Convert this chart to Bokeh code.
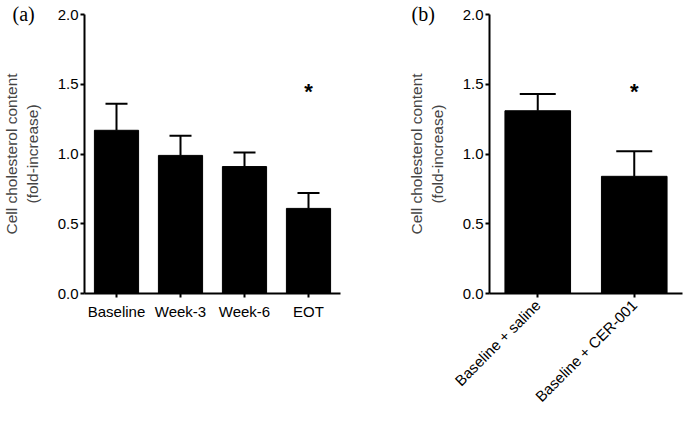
import math
from bokeh.plotting import figure
from bokeh.models import (ColumnDataSource, Whisker, TeeHead, Title, FactorRange,
                          CustomJSTickFormatter)
from bokeh.layouts import row
from bokeh.core.properties import value
from bokeh.embed import file_html
from bokeh.resources import INLINE

# ---- data ----
cats_a = ["Baseline", "Week-3", "Week-6", "EOT"]
vals_a = [1.17, 0.99, 0.91, 0.61]
err_a = [0.19, 0.14, 0.10, 0.11]

cats_b = ["Baseline + saline", "Baseline + CER-001"]
vals_b = [1.31, 0.84]
err_b = [0.12, 0.18]

star_a = ("EOT", 1.445)
star_b = ("Baseline + CER-001", 1.445)

y_ticks = [0.0, 0.5, 1.0, 1.5, 2.0]
ylab = "Cell cholesterol content\n(fold-increase)"
FONT = "Liberation Sans"
SERIF = "Liberation Serif"


def make_panel(cats, vals, errs, star, width, border_left, border_right, bar_w,
               cap, panel_label, label_off, rotate):
    src = ColumnDataSource(dict(x=cats, top=vals,
                                upper=[v + e for v, e in zip(vals, errs)]))
    p = figure(x_range=FactorRange(*cats, range_padding=0), y_range=(0, 2.0),
               width=width, height=413, output_backend="svg",
               toolbar_location=None, min_border_left=border_left,
               min_border_right=border_right, min_border_top=14,
               min_border_bottom=0)
    p.vbar(x="x", top="top", width=bar_w, source=src, fill_color="black",
           line_color="black")
    w = Whisker(base="x", upper="upper", lower="top", source=src,
                line_color="black", line_width=2,
                upper_head=TeeHead(size=cap, line_color="black", line_width=2),
                lower_head=None)
    p.add_layout(w)
    p.text(x=[star[0]], y=[star[1]], text=["*"], text_align="center",
           text_baseline="middle", text_font=value(FONT),
           text_font_style="bold", text_font_size="22px", text_color="black")

    p.outline_line_color = None
    p.grid.grid_line_color = None
    p.background_fill_color = None
    p.border_fill_color = None

    p.yaxis.ticker = y_ticks
    p.yaxis.formatter = CustomJSTickFormatter(code="return tick.toFixed(1);")
    p.yaxis.axis_label = ylab
    p.yaxis.axis_label_text_font = FONT
    p.yaxis.axis_label_text_font_style = "normal"
    p.yaxis.axis_label_text_font_size = "15.5px"
    p.yaxis.axis_label_standoff = 14
    p.yaxis.minor_tick_line_color = None

    for ax in (p.xaxis, p.yaxis):
        ax.axis_line_width = 2
        ax.axis_line_color = "black"
        ax.major_tick_line_width = 2
        ax.major_tick_line_color = "black"
        ax.major_tick_out = 4
        ax.major_tick_in = 0
        ax.major_label_text_font = FONT
        ax.major_label_text_font_size = "15px"
        ax.major_label_text_color = "black"
    p.yaxis.major_label_standoff = 2
    p.xaxis.major_label_standoff = 5
    if rotate:
        p.xaxis.major_label_orientation = math.pi / 4

    p.add_layout(Title(text=panel_label, align="left", offset=label_off,
                       standoff=-20, text_font=SERIF, text_font_size="20px",
                       text_font_style="normal", text_color="black"), "above")
    return p


pa = make_panel(cats_a, vals_a, err_a, star_a, width=370, border_left=72,
                border_right=30, bar_w=0.69, cap=22, panel_label="(a)",
                label_off=-72, rotate=False)
pb = make_panel(cats_b, vals_b, err_b, star_b, width=314, border_left=119,
                border_right=2, bar_w=0.68, cap=36, panel_label="(b)",
                label_off=-78, rotate=True)

layout = row(pa, pb)
open("out.html", "w").write(file_html(layout, INLINE))
